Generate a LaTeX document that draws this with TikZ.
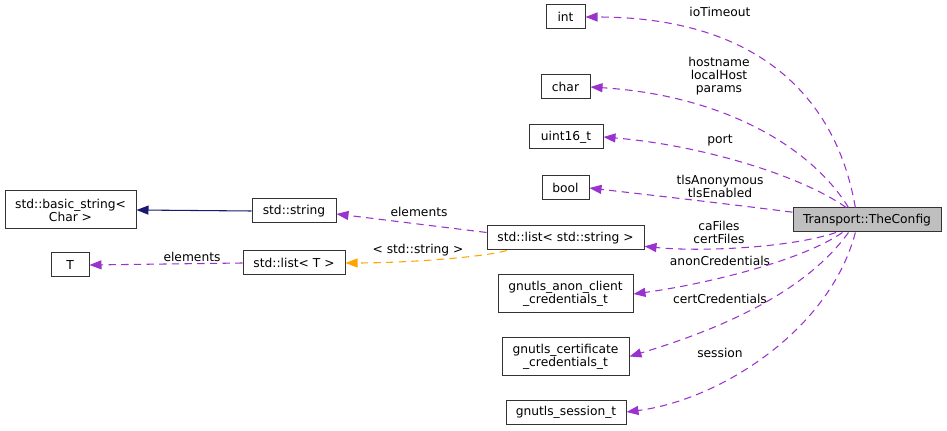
\documentclass[tikz,border=0pt]{standalone}
\usepackage{fontspec}
\setmainfont{DejaVu Sans}
\usetikzlibrary{arrows.meta}
\definecolor{usecol}{HTML}{9A32CD}
\definecolor{tplcol}{HTML}{FFA500}
\definecolor{inhcol}{HTML}{191970}
\definecolor{cfgfill}{HTML}{BFBFBF}
\begin{document}
\begin{tikzpicture}[
    x=0.75pt, y=-0.75pt,
    every node/.style={font=\fontsize{9.2pt}{9.75pt}\selectfont},
    cls/.style={draw=black!80, fill=white, line width=0.75pt, inner sep=0pt, minimum height=18pt, align=center},
    cls2/.style={cls, minimum height=28.5pt},
    lbl/.style={inner sep=0pt, align=center},
    usage/.style={draw=usecol, line width=0.8pt, dash pattern=on 5.5pt off 4pt, -{Triangle[length=9pt, width=6.75pt]}},
    tmpl/.style={usage, draw=tplcol},
    inh/.style={draw=inhcol, line width=0.8pt, -{Triangle[length=9pt, width=6.75pt]}}
  ]
    \useasboundingbox (0,0) rectangle (947,431);

    \node[cls, fill=cfgfill, minimum width=111pt] (cfg) at (867,220) {Transport::TheConfig};
    \node[cls, minimum width=29.25pt] (int) at (565.5,17) {int};
    \node[cls, minimum width=36.75pt] (char) at (565.5,87) {char};
    \node[cls, minimum width=55.5pt] (uint) at (566,137) {uint16\_t};
    \node[cls, minimum width=35.25pt] (bool) at (565.5,188) {bool};
    \node[cls, minimum width=117.75pt] (lstr) at (565.5,238) {std::list< std::string >};
    \node[cls2, minimum width=101.25pt] (anon) at (565.5,294) {gnutls\_anon\_client\\\_credentials\_t};
    \node[cls2, minimum width=95.25pt] (cert) at (565.5,356.5) {gnutls\_certificate\\\_credentials\_t};
    \node[cls, minimum width=90pt] (sess) at (566,412) {gnutls\_session\_t};
    \node[cls, minimum width=63pt] (str) at (294,211) {std::string};
    \node[cls2, minimum width=98.25pt] (bstr) at (70.5,210) {std::basic\_string<\\Char >};
    \node[cls, minimum width=76.5pt] (ltl) at (294,263) {std::list< T >};
    \node[cls, minimum width=28.5pt] (tt) at (70,265) {T};

    \node[lbl] (lto) at (720,12) {ioTimeout};
    \node[lbl] (lhost) at (719,76) {hostname\\localHost\\params};
    \node[lbl] (lport) at (720,140) {port};
    \node[lbl] (ltls) at (720,186) {tlsAnonymous\\tlsEnabled};
    \node[lbl] (lfiles) at (719,232) {caFiles\\certFiles};
    \node[lbl] (lanon) at (720,261) {anonCredentials};
    \node[lbl] (lcert) at (720,299) {certCredentials};
    \node[lbl] (lsess) at (720,353) {session};
    \node[lbl] (lelem) at (419,212) {elements};
    \node[lbl] (ltarg) at (418,250) {< std::string >};
    \node[lbl] (lelemt) at (192,257) {elements};

    \draw[usage] (cfg.133) .. controls (835,90) and (750,17) .. (int.east);
    \draw[usage] (cfg.146) .. controls (810,145) and (720,95) .. (char.east);
    \draw[usage] (cfg.149) .. controls (800,175) and (700,145) .. (uint.east);
    \draw[usage] (cfg.174) .. controls (720,203) and (650,195) .. (bool.east);
    \draw[usage] (cfg.202) .. controls (790,248) and (700,252) .. (lstr.-6);
    \draw[usage] (cfg.207) .. controls (800,262) and (700,285) .. (anon.east);
    \draw[usage] (cfg.214) .. controls (800,300) and (700,335) .. (cert.east);
    \draw[usage] (cfg.227) .. controls (830,330) and (720,400) .. (sess.east);
    \draw[usage] (lstr.176) -- (str.-4);
    \draw[tmpl] (lstr.192) .. controls (480,258) and (400,263) .. (ltl.east);
    \draw[inh] (str.west) -- (bstr.east);
    \draw[usage] (ltl.west) -- (tt.east);
  \end{tikzpicture}
\end{document}
